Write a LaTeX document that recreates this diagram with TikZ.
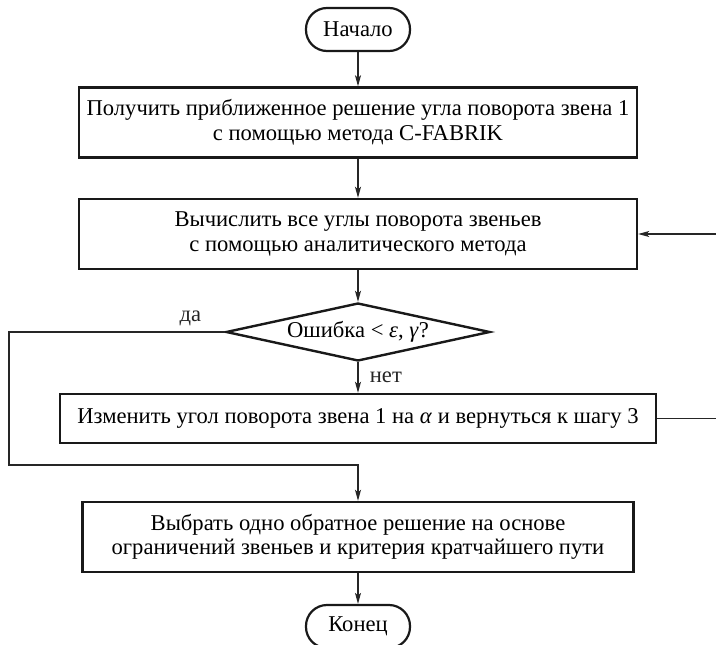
\documentclass[tikz,border=0pt]{standalone}
\usepackage{fontspec}
\setmainfont{Liberation Serif}
\usetikzlibrary{shapes.geometric,arrows.meta}

\begin{document}
\begin{tikzpicture}[x=1pt, y=-1pt, >={Stealth[length=11pt,width=6pt,inset=2.5pt]},
    font=\fontsize{22.6}{24.5}\selectfont,
    block/.style={draw=black!90, line width=2.4pt, minimum height=70pt, align=center, inner sep=0pt},
    term/.style={draw=black!90, line width=2.2pt, rounded corners=21pt, minimum width=104pt, minimum height=43pt},
    cond/.style={draw=black!90, line width=2.4pt, diamond, aspect=4.5, minimum width=264pt, minimum height=58pt, inner sep=0pt},
    flow/.style={->, black!85, line width=1.1pt}]
    % 1. Page frame (the loop on the right runs off the page)
    \useasboundingbox (0,0) rectangle (716,645);
    \clip (0,0) rectangle (716,645);

    % 2. Blocks, top to bottom
    \node[term] (start) at (358,29.5) {Начало};
    \node[block, minimum width=558pt] (approx) at (358,122.5)
        {Получить приближенное решение угла поворота звена 1\\с помощью метода C-FABRIK};
    \node[block, minimum width=558pt] (angles) at (358,234)
        {Вычислить все углы поворота звеньев\\с помощью аналитического метода};
    \node[cond] (check) at (358,332) {Ошибка < \textit{ε}, \textit{γ}?};
    \node[block, minimum width=596pt, minimum height=49pt] (change) at (358,418.5)
        {Изменить угол поворота звена 1 на \textit{α} и вернуться к шагу 3};
    \node[block, minimum width=551pt] (choose) at (358,537)
        {Выбрать одно обратное решение на основе\\ограничений звеньев и критерия кратчайшего пути};
    \node[term] (stop) at (358,626.5) {Конец};

    % 3. Turning points of the two loops
    \coordinate (yesL) at (9,465);
    \coordinate (back) at (740,300);

    % 4. Main flow
    \draw[flow] (start) -- (approx);
    \draw[flow] (approx) -- (angles);
    \draw[flow] (angles) -- (check);
    \draw[flow] (check) -- (change) node[midway, right=8pt] {нет};
    \draw[flow] (check.west) -| (yesL) node[pos=0.08, above=2pt] {да} -| (choose.north);
    \draw[flow] (change.east) -| (back) |- (angles.east);
    \draw[flow] (choose) -- (stop);
\end{tikzpicture}
\end{document}
